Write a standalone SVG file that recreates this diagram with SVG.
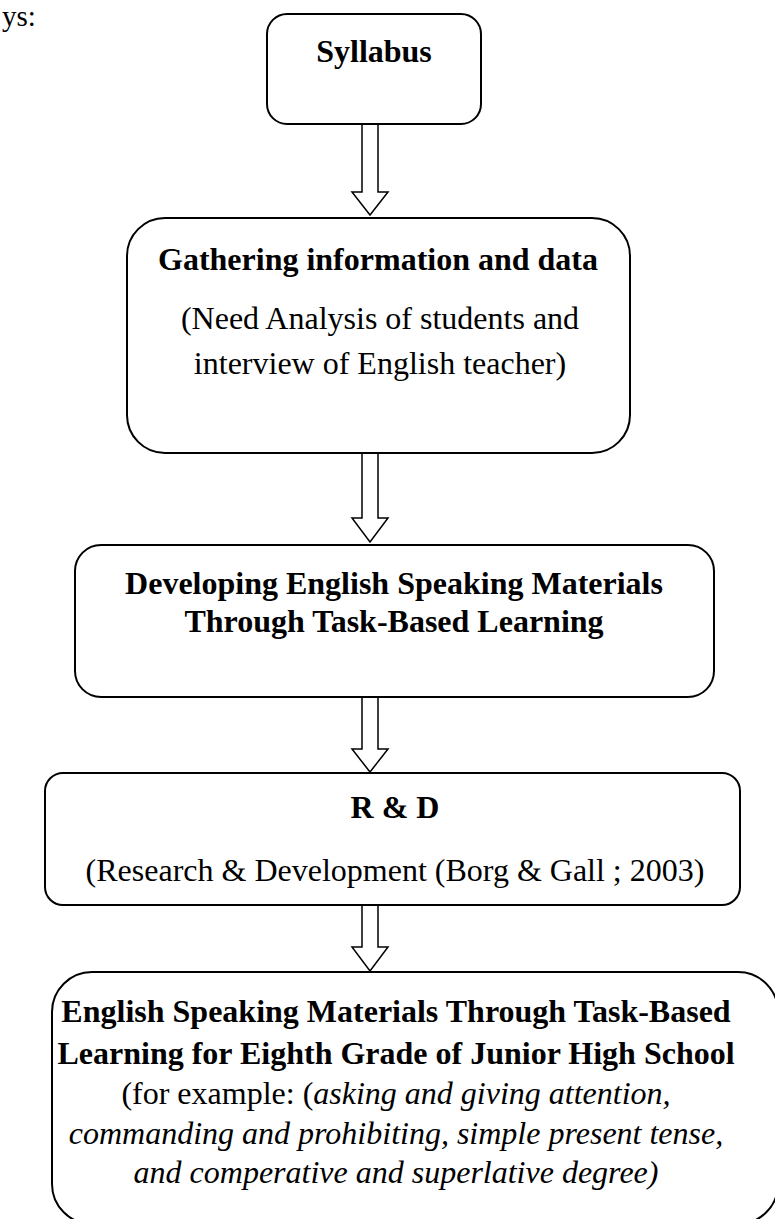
<svg xmlns="http://www.w3.org/2000/svg" width="775" height="1219" viewBox="0 0 775 1219">
<style>
.box{fill:#fff;stroke:#000;stroke-width:2}
.arr{fill:#fff;stroke:#000;stroke-width:1.5;stroke-linejoin:miter}
text{font-family:"Liberation Serif","Times New Roman",serif;font-size:32px;fill:#000;text-anchor:middle}
.b{font-weight:bold}
.i{font-style:italic}
</style>
<rect width="775" height="1219" fill="#fff"/>
<text x="2" y="26" style="text-anchor:start;font-size:29px">ys:</text>
<g id="connectors">
<path class="arr" d="M362 124 L378 124 L378 192 L388 192 L370 215 L352 192 L362 192 Z"/>
<path class="arr" d="M362 453 L378 453 L378 518 L388 518 L370 542 L352 518 L362 518 Z"/>
<path class="arr" d="M362 697 L378 697 L378 749 L388 749 L370 772 L352 749 L362 749 Z"/>
<path class="arr" d="M362 905 L378 905 L378 947 L388 947 L370 971 L352 947 L362 947 Z"/>
</g>
<g id="syllabus">
<rect class="box" x="267" y="14" width="214" height="110" rx="20"/>
<text class="b" x="374" y="62">Syllabus</text>
</g>
<g id="gathering">
<rect class="box" x="127" y="218" width="503" height="235" rx="38"/>
<text class="b" x="378" y="270">Gathering information and data</text>
<text x="380" y="329">(Need Analysis of students and</text>
<text x="380" y="374">interview of English teacher)</text>
</g>
<g id="developing">
<rect class="box" x="75" y="545" width="639" height="152" rx="26"/>
<text class="b" x="394" y="594">Developing English Speaking Materials</text>
<text class="b" x="394" y="632">Through Task-Based Learning</text>
</g>
<g id="rnd">
<rect class="box" x="45" y="773" width="695" height="132" rx="18"/>
<text class="b" x="395" y="818">R &amp; D</text>
<text x="395" y="881">(Research &amp; Development (Borg &amp; Gall ; 2003)</text>
</g>
<g id="result">
<rect class="box" x="52" y="972" width="726" height="252" rx="40"/>
<text class="b" x="396" y="1022">English Speaking Materials Through Task-Based</text>
<text class="b" x="396" y="1064">Learning for Eighth Grade of Junior High School</text>
<text x="396" y="1104">(for example: (<tspan class="i">asking and giving attention,</tspan></text>
<text class="i" x="396" y="1144">commanding and prohibiting, simple present tense,</text>
<text class="i" x="396" y="1183">and comperative and superlative degree)</text>
</g>
</svg>
